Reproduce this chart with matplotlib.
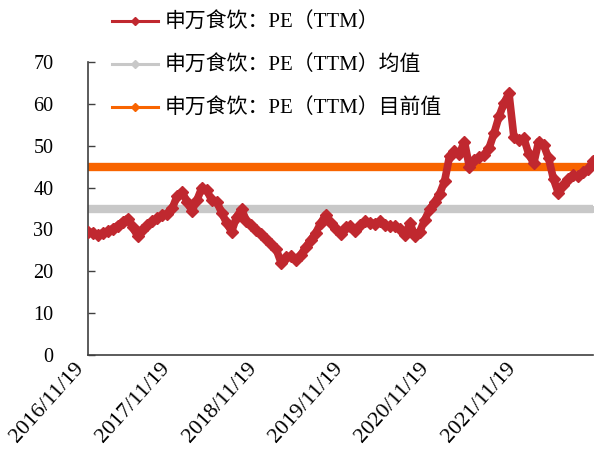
import numpy as np
import matplotlib
matplotlib.use("Agg")
import matplotlib.pyplot as plt
from matplotlib.lines import Line2D
from matplotlib.transforms import ScaledTranslation

# 申万食饮 PE(TTM), sampled every 14 trading days
pe = [29.4, 29.2, 28.7, 29.2, 29.6, 30.2, 30.9, 31.8, 32.6, 30.5,
      28.5, 29.8, 31.0, 32.0, 32.7, 33.4, 33.8, 35.0, 38.0, 39.0,
      36.5, 34.5, 37.0, 40.0, 39.3, 37.0, 36.6, 34.0, 31.5, 29.5,
      33.0, 34.8, 32.0, 31.0, 29.8, 29.0, 27.8, 26.5, 25.3, 22.0,
      23.4, 23.6, 22.8, 24.0, 25.8, 27.5, 29.2, 31.5, 33.5, 31.5,
      30.2, 28.8, 30.5, 30.8, 29.7, 31.0, 32.0, 31.6, 31.4, 32.0,
      31.0, 30.8, 30.8, 30.0, 28.6, 31.5, 28.5, 29.5, 32.3, 34.8,
      36.5, 38.5, 41.5, 47.5, 48.7, 48.0, 51.0, 45.0, 46.6, 47.3,
      47.8, 49.5, 53.0, 57.0, 60.2, 62.5, 52.0, 51.4, 51.8, 48.0,
      45.8, 51.0, 50.2, 47.0, 42.0, 38.6, 40.5, 42.0, 43.0, 42.8,
      43.7, 44.5, 46.3]
step = 14
pe_mean = 34.9
pe_now = 44.9

tick_labels = ["2016/11/19", "2017/11/19", "2018/11/19",
               "2019/11/19", "2020/11/19", "2021/11/19"]
days_per_year = 244

labels = ["申万食饮：PE（TTM）", "申万食饮：PE（TTM）均值", "申万食饮：PE（TTM）目前值"]
red = "#C0282F"
grey = "#C8C8C8"
orange = "#F86400"

serif = ["Liberation Serif", "Noto Sans CJK SC"]

fig = plt.figure(figsize=(5.95, 4.63), dpi=100)
ax = fig.add_axes([0.1479, 0.2333, 0.849, 0.6328])

x = np.arange(len(pe)) * step
ax.plot(x, np.full(len(x), pe_mean), color=grey, lw=6, marker="D", ms=3, zorder=2)
ax.plot(x, np.full(len(x), pe_now), color=orange, lw=6, marker="D", ms=3, zorder=2)
ax.plot(x, pe, color=red, lw=5.5, marker="D", ms=6, solid_joinstyle="round", zorder=3)

ax.set_xlim(0, x[-1])
ax.set_ylim(0, 70)
ax.set_yticks(range(0, 71, 10))
ax.set_xticks([i * days_per_year for i in range(len(tick_labels))])
ax.set_xticklabels(tick_labels, rotation=48, ha="right", va="top")

for lab in ax.get_yticklabels():
    lab.set_family(serif)
    lab.set_fontsize(14.5)
for lab in ax.get_xticklabels():
    lab.set_family(serif)
    lab.set_fontsize(16)
    lab.set_transform(lab.get_transform() + ScaledTranslation(-11 / 72, 0, fig.dpi_scale_trans))

ax.tick_params(axis="y", direction="in", length=5, width=1, color="#404040", pad=25)
ax.tick_params(axis="x", length=0, pad=3)
for s in ["top", "right"]:
    ax.spines[s].set_visible(False)
for s in ["left", "bottom"]:
    ax.spines[s].set_color("#404040")
    ax.spines[s].set_linewidth(1.2)

handles = [Line2D([], [], color=c, lw=2.2, marker="D", ms=4) for c in (red, grey, orange)]
fig.legend(handles, labels, loc="upper left", bbox_to_anchor=(112 / 595, 0.9715),
           frameon=False, borderpad=0, borderaxespad=0, handlelength=2.2,
           handletextpad=0.35, labelspacing=1.1, prop={"family": serif, "size": 15})

fig.savefig("out.png", dpi=100)
